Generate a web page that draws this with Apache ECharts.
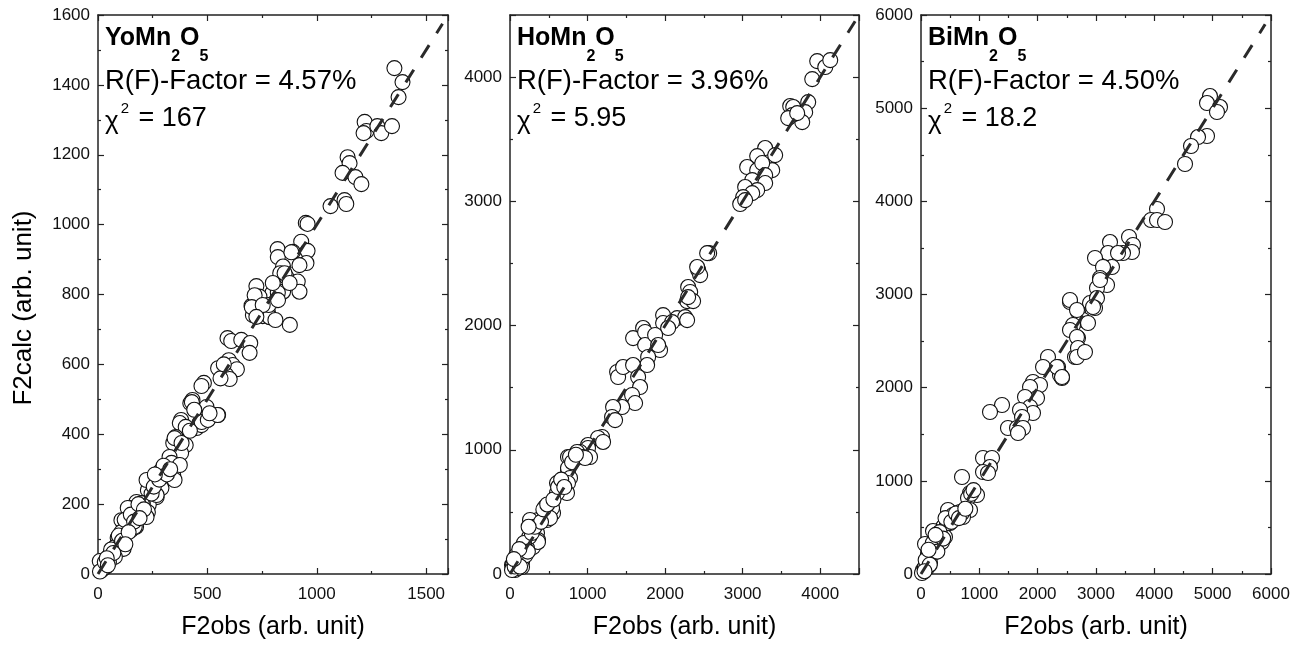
<!DOCTYPE html>
<html>
<head>
<meta charset="utf-8">
<script src="https://cdn.jsdelivr.net/npm/echarts@6/dist/echarts.min.js"></script>
<style>
html,body{margin:0;padding:0;background:#fff;}
#chart{width:1301px;height:645px;}
</style>
</head>
<body>
<div id="chart"></div>
<script>
// ---------- DATA ----------
const panelNames = ['Yo', 'Ho', 'Bi'];
const rFactors = ['4.57%', '3.96%', '4.50%'];
const chi2Values = ['167', '5.95', '18.2'];
const xTitle = 'F2obs (arb. unit)';
const yTitle = 'F2calc (arb. unit)';

const yoObs = [1355,1392,1374,1219,1227,1277,1295,1344,1214,1141,1150,1118,1177,1204,1063,1127,1135,950,958,929,958,891,953,921,821,822,846,833,860,913,921,877,724,798,738,846,822,816,702,730,708,753,776,785,811,780,884,853,876,799,716,703,753,823,724,592,609,655,696,693,598,616,635,549,586,602,484,473,432,422,496,502,549,527,465,451,473,380,374,401,355,344,387,401,380,365,327,336,298,282,344,350,237,268,290,228,268,232,205,176,145,228,222,107,130,151,174,107,90,98,117,53,77,23,35,17,8,50,9,136,200,168,122,222,268,291,350,382,374,429,474,502,547,77,108,31,60,70,95,110,150,165,185,210,245,255,280,300,315,330,40,45,140,190,125,260,420,440,510,560,575];
const yoCalc = [1448,1408,1365,1294,1268,1282,1262,1282,1262,1193,1176,1148,1136,1116,1053,1070,1059,1005,1002,951,925,922,890,884,930,907,880,861,851,837,808,713,824,805,794,808,805,784,768,770,741,738,751,735,727,770,921,861,833,833,798,764,770,784,736,675,667,670,661,633,612,598,586,589,570,558,547,538,498,489,478,441,455,455,433,418,426,441,432,421,392,375,375,369,346,312,335,318,298,292,283,269,269,260,246,240,220,198,203,206,189,177,163,154,146,126,135,120,103,89,72,54,49,31,20,11,37,34,7,189,203,135,155,269,226,298,389,375,312,492,435,441,455,77,97,34,70,60,110,95,170,150,200,185,230,250,270,310,285,300,45,25,120,160,85,285,410,470,460,560,600];

const hoObs = [3961,4065,4129,3897,3845,3613,3652,3806,3768,3639,3587,3703,3290,3187,3419,3381,3058,3187,3252,3290,3123,3290,3032,3187,3123,3006,2968,3032,2568,2542,2426,2452,2413,2297,2323,2284,2361,2297,1974,2155,2258,2284,1716,1974,2090,2039,1587,1742,1742,1871,1935,1910,1781,1768,1381,1394,1458,1587,1652,1677,1574,1613,1445,1329,1316,1355,1187,1135,1200,1006,1006,1032,903,865,942,968,748,774,748,748,774,619,606,748,684,735,606,516,555,542,452,477,452,516,361,258,284,348,361,298,297,297,361,194,219,194,155,155,103,90,64,155,64,155,26,39,103,26,120,60,200,250,80,130,180,230,280,320,400,430,480,560,620,660,700,800,850,120,50,240];
const hoCalc = [4129,4081,4137,3984,3799,3767,3759,3718,3638,3694,3670,3710,3429,3364,3372,3251,3276,3251,3308,3211,3171,3147,3115,3090,3066,3034,2978,3010,2583,2583,2447,2406,2471,2310,2270,2197,2197,2229,2084,2060,2068,2044,1980,2020,2028,1980,1899,1948,1843,1924,1803,1843,1747,1682,1626,1586,1666,1682,1586,1505,1441,1376,1344,1344,1264,1239,1103,1095,1063,1038,1014,942,982,982,942,934,942,942,837,853,773,732,732,732,676,652,652,555,491,531,539,435,491,451,435,435,370,330,274,298,217,274,258,250,209,209,169,193,137,89,97,97,32,56,72,72,48,32,120,60,150,300,150,60,250,180,330,380,420,520,560,600,700,760,700,900,960,200,120,380];

const biObs = [4954,4903,5126,5074,4903,4749,4629,4526,4046,3943,4046,4183,3566,3634,3617,3240,3206,3463,3377,2983,3274,3120,3069,3189,3017,2554,2897,3017,2983,2691,2777,2863,2606,2554,2691,2640,2726,2777,2177,2092,2349,2417,2383,1920,2040,1869,1989,1783,1869,1920,1697,1732,1389,1183,1491,1646,1749,1663,1063,1217,1183,1063,1149,703,840,960,806,840,669,549,463,720,446,497,377,206,411,360,69,240,206,120,154,103,34,17,463,549,703,446,326,240,120,69,3069,2554,2674,2949,2674,2691,2674,2811,2331,2417,80,150,200,280,320,380,420,520,600,650,760,860,60,130,250,900];
const biCalc = [5130,5055,5012,4959,4701,4690,4594,4401,3918,3800,3800,3778,3617,3531,3456,3563,3445,3445,3445,3392,3295,3295,3177,3102,3070,2919,2908,2962,2855,2812,2726,2694,2673,2619,2533,2329,2404,2383,2329,2222,2222,2104,2136,2061,2029,2007,1889,1900,1793,1728,1760,1685,1814,1739,1567,1567,1567,1513,1245,1245,1148,1095,1084,1041,869,848,816,687,665,655,665,612,580,547,504,461,397,343,322,258,225,204,118,64,43,11,687,633,655,547,386,236,182,75,3156,2941,2834,2866,2544,2426,2329,2383,2222,2114,150,100,330,240,450,380,600,560,650,600,700,860,30,260,420,900];

// reference y = x lines (end value)
const fitEnds = [1575, 4450, 5900];

// axis ranges / ticks
const xMax = [1600, 4500, 6000];
const xInterval = [500, 1000, 1000];
const yMax = [1600, 4500, 6000];
const yInterval = [200, 1000, 1000];

// ---------- LAYOUT ----------
const grids = [
  {left: 98, top: 15, width: 350, height: 559},
  {left: 510, top: 15, width: 349, height: 559},
  {left: 921, top: 15, width: 350, height: 559}
];
const FONT = "'Liberation Sans', Arial, sans-serif";
const AXC = '#222';

const obsArr = [yoObs, hoObs, biObs];
const calcArr = [yoCalc, hoCalc, biCalc];

const xAxes = [], yAxes = [], series = [], graphics = [];

grids.forEach((g, i) => {
  const tickStyle = {color: AXC, width: 1.2};
  const common = (pos, isX, showLabel) => ({
    gridIndex: i, type: 'value', position: pos,
    min: 0, max: isX ? xMax[i] : yMax[i],
    interval: isX ? xInterval[i] : yInterval[i],
    axisLine: {show: true, onZero: false, lineStyle: {color: AXC, width: 1.5}},
    axisTick: {show: true, inside: true, length: 6, lineStyle: tickStyle},
    minorTick: {show: true, splitNumber: 2, length: 3, lineStyle: tickStyle},
    splitLine: {show: false},
    axisLabel: {
      show: showLabel, fontSize: 17, fontFamily: FONT, color: '#111',
      margin: isX ? 12 : 8,
      formatter: v => String(v),
      showMaxLabel: isX ? (xMax[i] % xInterval[i] === 0) : (yMax[i] % yInterval[i] === 0)
    }
  });
  xAxes.push(common('bottom', true, true));
  xAxes.push(common('top', true, false));
  yAxes.push(common('left', false, true));
  yAxes.push(common('right', false, false));

  const pts = obsArr[i].map((v, k) => [v, calcArr[i][k]]);
  series.push({
    type: 'scatter', xAxisIndex: 2 * i, yAxisIndex: 2 * i,
    data: pts, symbol: 'circle', symbolSize: 15,
    itemStyle: {color: '#fff', borderColor: '#111', borderWidth: 1.1, opacity: 1},
    silent: true, z: 2
  });
  series.push({
    type: 'line', xAxisIndex: 2 * i, yAxisIndex: 2 * i,
    data: [[0, 0], [fitEnds[i], fitEnds[i]]],
    showSymbol: false, symbol: 'none',
    lineStyle: {color: '#2a2a2a', width: 3, type: [15, 14]},
    silent: true, z: 3
  });

  const tx = g.left + 7;
  graphics.push({
    type: 'text', x: tx, y: 38, z: 10,
    style: {
      text: '{b|' + panelNames[i] + 'Mn}{s|2}{b|O}{s|5}',
      verticalAlign: 'middle', align: 'left',
      rich: {
        b: {fontSize: 25, fontWeight: 'bold', fontFamily: FONT, fill: '#000', color: '#000'},
        s: {fontSize: 16, fontWeight: 'bold', fontFamily: FONT, fill: '#000', color: '#000', padding: [38, 0, 0, 0]}
      }
    }
  });
  graphics.push({
    type: 'text', x: tx, y: 81, z: 10,
    style: {text: 'R(F)-Factor = ' + rFactors[i], font: '27.5px ' + FONT, fill: '#000', verticalAlign: 'middle', align: 'left'}
  });
  graphics.push({
    type: 'text', x: tx, y: 119, z: 10,
    style: {
      text: '{c|χ}{p|2}{n| = ' + chi2Values[i] + '}',
      verticalAlign: 'middle', align: 'left',
      rich: {
        c: {fontSize: 26, fontFamily: FONT, fill: '#000', color: '#000', padding: [6, 0, 0, 0]},
        p: {fontSize: 15, fontFamily: FONT, fill: '#000', color: '#000', padding: [0, 2, 20, 2]},
        n: {fontSize: 27, fontFamily: FONT, fill: '#000', color: '#000'}
      }
    }
  });
  graphics.push({
    type: 'text', x: g.left + g.width / 2, y: 627, z: 10,
    style: {text: xTitle, font: '25px ' + FONT, fill: '#000', align: 'center', verticalAlign: 'middle'}
  });
});

graphics.push({
  type: 'text', x: 24, y: 308, rotation: Math.PI / 2, z: 10,
  style: {text: yTitle, font: '26px ' + FONT, fill: '#000', align: 'center', verticalAlign: 'middle'}
});

const chart = echarts.init(document.getElementById('chart'), null, {renderer: 'canvas'});
chart.setOption({
  backgroundColor: '#fff',
  animation: false,
  grid: grids.map(g => Object.assign({containLabel: false}, g)),
  xAxis: xAxes,
  yAxis: yAxes,
  series: series,
  graphic: graphics
});
</script>
</body>
</html>
